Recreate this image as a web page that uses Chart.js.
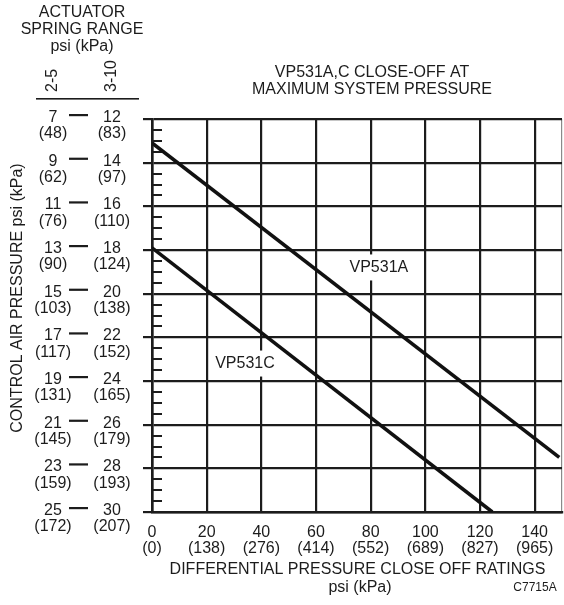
<!DOCTYPE html>
<html><head><meta charset="utf-8">
<script src="https://cdn.jsdelivr.net/npm/chart.js@4"></script>
<style>html,body{margin:0;padding:0;background:#fff}</style>
</head><body>
<canvas id="c" width="564" height="605"></canvas>
<script>
// ---- data ----
const xTicksPsi = [0, 20, 40, 60, 80, 100, 120, 140];
const xTicksKpa = [0, 138, 276, 414, 552, 689, 827, 965];
const xMax = 150;
const ySpring25 = [7, 9, 11, 13, 15, 17, 19, 21, 23, 25];
const yKpa25 = [48, 62, 76, 90, 103, 117, 131, 145, 159, 172];
const ySpring310 = [12, 14, 16, 18, 20, 22, 24, 26, 28, 30];
const yKpa310 = [83, 97, 110, 124, 138, 152, 165, 179, 193, 207];
const vp531aX = [0, 149];
const vp531aY = [8.1, 22.5];
const vp531cX = [0, 124.5];
const vp531cY = [12.9, 25];
const seriesNames = ['VP531A', 'VP531C'];
const yMinorStep = 0.5;

// ---- styling ----
const INK = '#1c1c1c';
const FONT = '16px "Liberation Sans", Arial, sans-serif';
const SMALL = '12px "Liberation Sans Narrow", "Liberation Sans", Arial, sans-serif';
const labelAnchors = [{x: 83, y: 13.8}, {x: 34, y: 18.2}];

const pts = (xs, ys) => xs.map((x, i) => ({x, y: ys[i]}));

const deco = {
  id: 'deco',
  beforeDatasetsDraw(chart) {
    const {ctx, chartArea} = chart;
    const xs = chart.scales.x, ys = chart.scales.y;
    ctx.save();
    // minor ticks on the left axis
    ctx.strokeStyle = INK; ctx.lineWidth = 2;
    for (let i = 0; i < ySpring25.length - 1; i++) {
      for (let v = ySpring25[i] + yMinorStep; v < ySpring25[i + 1] - 1e-9; v += yMinorStep) {
        const py = Math.round(ys.getPixelForValue(v));
        ctx.beginPath(); ctx.moveTo(chartArea.left, py); ctx.lineTo(chartArea.left + 10, py); ctx.stroke();
      }
    }
    // series labels with white boxes
    ctx.font = FONT; ctx.textAlign = 'center'; ctx.textBaseline = 'middle';
    seriesNames.forEach((n, i) => {
      const px = xs.getPixelForValue(labelAnchors[i].x);
      const py = ys.getPixelForValue(labelAnchors[i].y);
      const w = ctx.measureText(n).width;
      ctx.fillStyle = '#fff';
      ctx.fillRect(px - w / 2 - 6, py - 13, w + 12, 26);
      ctx.fillStyle = INK;
      ctx.fillText(n, px, py);
    });
    ctx.restore();
  },
  afterDraw(chart) {
    const {ctx} = chart;
    const ys = chart.scales.y;
    ctx.save();
    ctx.fillStyle = INK; ctx.font = FONT;
    ctx.textAlign = 'center'; ctx.textBaseline = 'middle';
    // header
    ctx.fillText('ACTUATOR', 82, 13);
    ctx.fillText('SPRING RANGE', 82, 30);
    ctx.fillText('psi (kPa)', 82, 47);
    // rotated column heads
    [['2-5', 53], ['3-10', 112]].forEach(([t, x]) => {
      ctx.save(); ctx.translate(x, 92); ctx.rotate(-Math.PI / 2);
      ctx.textAlign = 'left'; ctx.fillText(t, 0, 0); ctx.restore();
    });
    ctx.fillRect(36, 98, 103, 1.6);
    // y tick labels (two columns)
    ySpring25.forEach((v, i) => {
      const py = ys.getPixelForValue(v);
      ctx.fillText(String(v), 53, py - 1.5);
      ctx.fillText('(' + yKpa25[i] + ')', 53, py + 15);
      ctx.fillText(String(ySpring310[i]), 112, py - 1.5);
      ctx.fillText('(' + yKpa310[i] + ')', 112, py + 15);
      ctx.fillRect(69, py - 5, 19, 2.2);
    });
    // y axis title
    ctx.save(); ctx.translate(18, 298); ctx.rotate(-Math.PI / 2);
    ctx.fillText('CONTROL AIR PRESSURE psi (kPa)', 0, 0); ctx.restore();
    // chart title
    ctx.fillText('VP531A,C CLOSE-OFF AT', 372, 72.5);
    ctx.fillText('MAXIMUM SYSTEM PRESSURE', 372, 89.5);
    // x title
    ctx.fillText('DIFFERENTIAL PRESSURE CLOSE OFF RATINGS', 357.5, 570);
    ctx.fillText('psi (kPa)', 360, 588);
    ctx.font = SMALL;
    ctx.fillText('C7715A', 535, 588);
    ctx.restore();
  }
};

new Chart(document.getElementById('c'), {
  type: 'scatter',
  data: {
    datasets: [
      {label: seriesNames[0], data: pts(vp531aX, vp531aY)},
      {label: seriesNames[1], data: pts(vp531cX, vp531cY)}
    ]
  },
  options: {
    responsive: false,
    animation: false,
    devicePixelRatio: 1,
    showLine: true,
    elements: {
      point: {radius: 0, hoverRadius: 0},
      line: {borderColor: '#111', borderWidth: 3.6, tension: 0, borderCapStyle: 'butt'}
    },
    layout: {padding: {top: 119, right: 2, bottom: 0, left: 0}},
    plugins: {legend: {display: false}, tooltip: {enabled: false}, title: {display: false}},
    scales: {
      x: {
        type: 'linear', min: 0, max: xMax,
        afterBuildTicks: s => { s.ticks = xTicksPsi.concat([xMax]).map(v => ({value: v})); },
        afterFit: s => { s.height = 93; s.paddingLeft = 0; s.paddingRight = 0; },
        ticks: {
          autoSkip: false, maxRotation: 0, padding: 13, color: INK,
          font: {family: '"Liberation Sans", Arial, sans-serif', size: 16, lineHeight: 1.0},
          callback: v => {
            const i = xTicksPsi.indexOf(v);
            return i < 0 ? '' : [String(v), '(' + xTicksKpa[i] + ')'];
          }
        },
        grid: {
          color: c => (c.tick && c.tick.value === xMax) ? '#8a8a8a' : INK,
          lineWidth: c => (c.tick && c.tick.value === xMax) ? 1.2 : 2.2,
          drawTicks: false
        },
        border: {display: true, color: INK, width: 2.5}
      },
      y: {
        type: 'linear', reverse: true, min: ySpring25[0], max: ySpring25[ySpring25.length - 1],
        afterBuildTicks: s => { s.ticks = ySpring25.map(v => ({value: v})); },
        afterFit: s => { s.width = 152; s.paddingTop = 0; s.paddingBottom = 0; },
        ticks: {display: false},
        grid: {color: INK, lineWidth: 2.2, drawTicks: true, tickLength: 9},
        border: {display: true, color: INK, width: 2.6}
      }
    }
  },
  plugins: [deco]
});
</script>
</body></html>
